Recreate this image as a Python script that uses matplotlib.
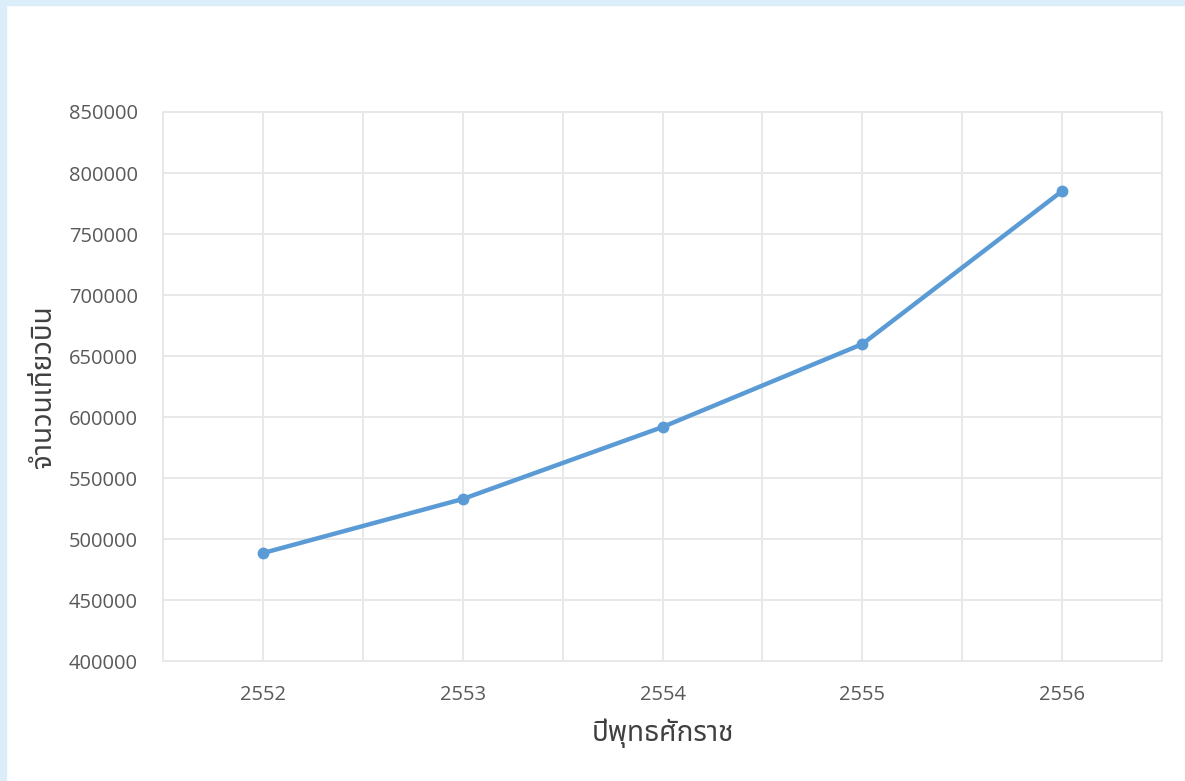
# กราฟจำนวนเที่ยวบินรายปี (พ.ศ. 2552-2556)
import matplotlib
matplotlib.use("Agg")
import matplotlib.pyplot as plt
from matplotlib import font_manager
from matplotlib.patches import Rectangle
from matplotlib.ticker import MultipleLocator

years = [2552, 2553, 2554, 2555, 2556]
flights = [488500, 532800, 591800, 659800, 785200]
x_label = "ปีพุทธศักราช"
y_label = "จำนวนเที่ยวบิน"


def find_thai_font():
    # ค้นหาฟอนต์ที่มีอักษรไทย เลือกแบบไม่ใช่ monospace ก่อน
    from matplotlib.ft2font import FT2Font
    found = []
    for path in font_manager.findSystemFonts():
        try:
            f = FT2Font(path)
            if 0x0E08 in f.get_charmap():
                found.append(font_manager.FontProperties(fname=path).get_name())
        except Exception:
            pass
    prefer = ["Noto Sans Thai", "Noto Sans Thai UI", "Loma", "Garuda", "Waree",
              "Umpush", "Sarabun", "Tlwg Typo", "Laksaman", "Kinnari", "Norasi"]
    for name in prefer:
        if name in found:
            return name
    for name in found:
        if "Mono" not in name and "Typewriter" not in name:
            return name
    return found[0] if found else None


thai = find_thai_font()
families = ["Open Sans", "DejaVu Sans"]
if thai:
    families = ["Open Sans", thai, "DejaVu Sans"]
plt.rcParams["font.family"] = families

grid_color = "#e8e8e8"
line_color = "#5b9bd5"

fig = plt.figure(figsize=(11.85, 7.81), dpi=100)
ax = fig.add_axes([0.1376, 0.1536, 0.843, 0.703])

ax.plot(years, flights, color=line_color, linewidth=3.2, marker="o", markersize=7.5,
        solid_capstyle="round", zorder=3)

ax.set_xlim(2551.5, 2556.5)
ax.set_ylim(400000, 850000)
ax.set_xticks(years)
ax.xaxis.set_minor_locator(MultipleLocator(0.5))
ax.yaxis.set_major_locator(MultipleLocator(50000))
ax.grid(True, which="both", color=grid_color, linewidth=1.4)
ax.set_axisbelow(True)
for s in ax.spines.values():
    s.set_color(grid_color)
    s.set_linewidth(1.4)
ax.tick_params(which="both", length=0)
ax.tick_params(axis="y", pad=18, labelsize=14.5, labelcolor="#595959")
ax.tick_params(axis="x", pad=17, labelsize=14.5, labelcolor="#595959")

ax.set_xlabel(x_label, fontsize=20, color="#404040", labelpad=10)
ax.set_ylabel(y_label, fontsize=20, color="#404040", labelpad=8)

# กรอบสีฟ้าด้านบนและด้านซ้าย
fig.patches.append(Rectangle((0, 0.993), 1, 0.007, transform=fig.transFigure,
                             color="#dcedfa", zorder=0))
fig.patches.append(Rectangle((0, 0), 0.005, 1, transform=fig.transFigure,
                             color="#dcedfa", zorder=0))

fig.savefig("out.png", dpi=100)
